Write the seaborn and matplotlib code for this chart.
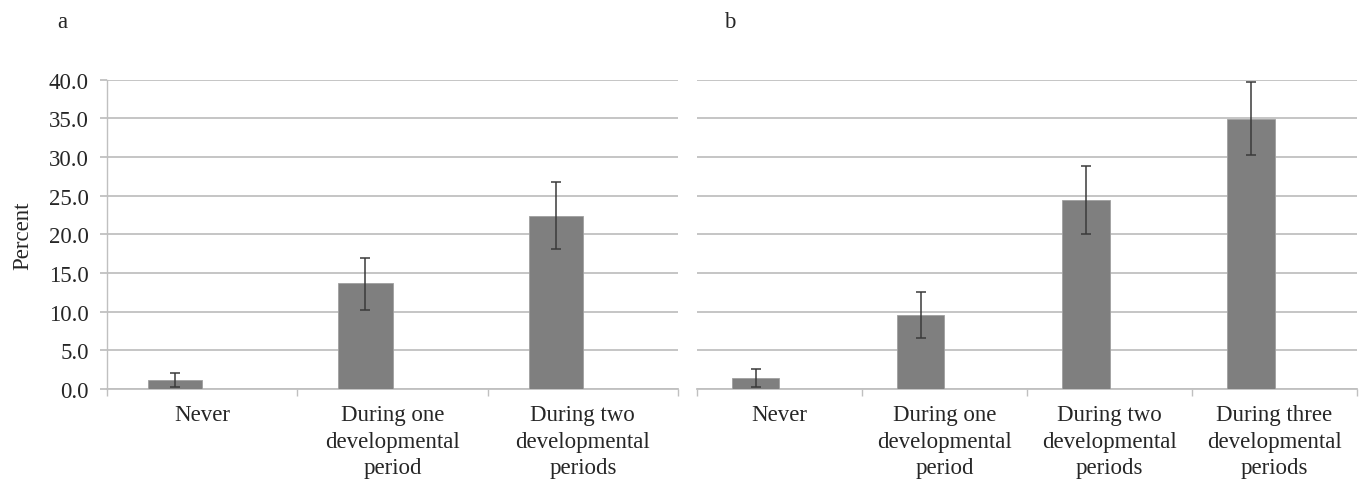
import numpy as np
import pandas as pd
import matplotlib
matplotlib.use("Agg")
import matplotlib.pyplot as plt
import seaborn as sns

# panel a
cats_a = ["Never", "During one\ndevelopmental\nperiod", "During two\ndevelopmental\nperiods"]
pct_a = [1.1, 13.7, 22.4]
lo_a = [0.2, 10.2, 18.1]
hi_a = [2.1, 17.0, 26.8]

# panel b
cats_b = ["Never", "During one\ndevelopmental\nperiod", "During two\ndevelopmental\nperiods",
          "During three\ndevelopmental\nperiods"]
pct_b = [1.4, 9.6, 24.4, 34.9]
lo_b = [0.2, 6.6, 20.0, 30.3]
hi_b = [2.6, 12.5, 28.9, 39.7]

yticks = [0, 5, 10, 15, 20, 25, 30, 35, 40]

sns.set_style("white")
plt.rcParams['font.family'] = ['Liberation Serif', 'DejaVu Serif']

GRID = "#c0c0c0"
BAR = "#7f7f7f"
FS = 16.5

fig = plt.figure(figsize=(13.6, 4.85), dpi=100)
ax1 = fig.add_axes([107 / 1360, 95 / 485, 571 / 1360, 309.3 / 485])
ax2 = fig.add_axes([697 / 1360, 95 / 485, 660 / 1360, 309.3 / 485])


def panel(ax, cats, vals, lo, hi, show_y):
    df = pd.DataFrame({"cat": cats, "pct": vals, "grp": "pct"})
    sns.barplot(data=df, x="cat", y="pct", hue="grp", hue_order=["pct", "blank"],
                dodge=True, width=0.57, palette=[BAR, BAR],
                edgecolor="#a0a0a0", linewidth=0.6, errorbar=None, legend=False,
                ax=ax, zorder=3)
    bars = ax.containers[0]
    xs = [b.get_x() + b.get_width() / 2 for b in bars]
    v = np.array(vals)
    yerr = [v - np.array(lo), np.array(hi) - v]
    ax.errorbar(xs, v, yerr=yerr, fmt="none", ecolor="#3a3a3a", elinewidth=1.1,
                capsize=3.3, capthick=1.1, zorder=4)

    n = len(cats)
    ax.set_xlim(-0.5, n - 0.5)
    ax.set_ylim(0, 40)
    ax.set_yticks(yticks)
    ax.yaxis.grid(True, color=GRID, linewidth=1.3, zorder=0)
    ax.set_axisbelow(True)
    ax.set_xlabel("")
    ax.set_ylabel("")

    for s in ["top", "right"]:
        ax.spines[s].set_visible(False)
    ax.spines["bottom"].set_color(GRID)
    ax.spines["bottom"].set_linewidth(1.3)

    # category boundary ticks, Excel style
    ax.set_xticks(np.arange(-0.5, n), minor=True)
    ax.tick_params(axis="x", which="minor", bottom=True, length=5, width=1.0, color=GRID)
    ax.tick_params(axis="x", which="major", length=0, pad=11, labelsize=FS)
    for t in ax.get_xticklabels():
        t.set_linespacing(1.35)

    if show_y:
        ax.spines["left"].set_color(GRID)
        ax.spines["left"].set_linewidth(1.0)
        ax.set_yticklabels([f"{y:.1f}" for y in yticks])
        ax.tick_params(axis="y", left=True, length=5, width=1.3, color=GRID,
                       pad=8, labelsize=FS)
        ax.set_ylabel("Percent", fontsize=FS, labelpad=11)
    else:
        ax.spines["left"].set_visible(False)
        ax.tick_params(axis="y", left=False, labelleft=False)


panel(ax1, cats_a, pct_a, lo_a, hi_a, True)
panel(ax2, cats_b, pct_b, lo_b, hi_b, False)

fig.text(57 / 1360, 1 - 28 / 485, "a", fontsize=FS)
fig.text(724 / 1360, 1 - 28 / 485, "b", fontsize=FS)

fig.savefig("out.png", dpi=100)
